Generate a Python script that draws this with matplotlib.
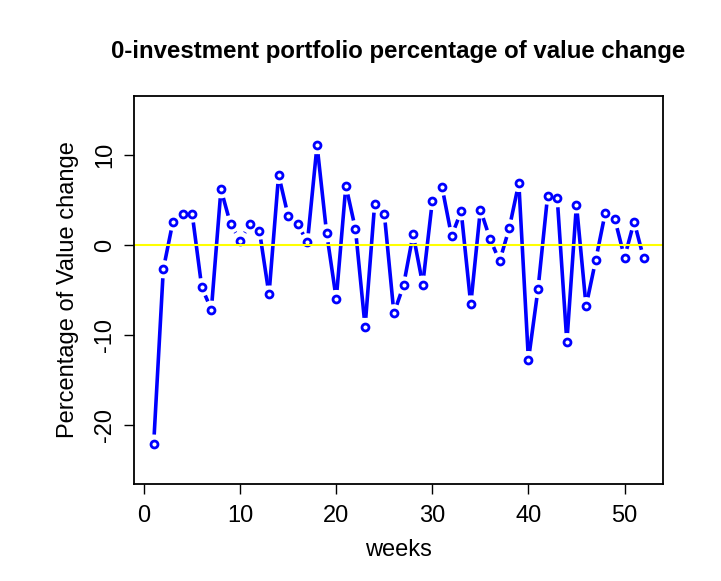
import numpy as np
import matplotlib
matplotlib.use("Agg")
import matplotlib.pyplot as plt
from matplotlib.collections import LineCollection

# weekly percentage change of the 0-investment portfolio
weeks = np.arange(1, 53)
pct_change = [
    -22.1, -2.7, 2.6, 3.5, 3.5, -4.7, -7.2, 6.2, 2.3, 0.5,
    2.3, 1.6, -5.5, 7.8, 3.2, 2.3, 0.3, 11.1, 1.3, -6.0,
    6.6, 1.75, -9.1, 4.6, 3.5, -7.6, -4.5, 1.2, -4.4, 4.9,
    6.5, 1.0, 3.75, -6.6, 3.95, 0.7, -1.8, 1.85, 6.9, -12.8,
    -4.9, 5.5, 5.2, -10.8, 4.5, -6.8, -1.7, 3.6, 2.85, -1.4,
    2.6, -1.5,
]

plt.rcParams['font.family'] = ['Liberation Sans', 'DejaVu Sans']
plt.rcParams['axes.unicode_minus'] = False

fig = plt.figure(figsize=(7.21, 5.81), dpi=100)
ax = fig.add_axes([0.186, 0.167, 0.734, 0.668])

x = np.asarray(weeks, dtype=float)
y = np.asarray(pct_change, dtype=float)

# R style limits: data range + 4%
xr = x.max() - x.min()
ax.set_xlim(x.min() - 0.04 * xr, x.max() + 0.04 * xr)
ax.set_ylim(-25 - 0.04 * 40, 15 + 0.04 * 40)

# type = "b": segments with gaps around the points
fig.canvas.draw()
pts = ax.transData.transform(np.column_stack([x, y]))
gap = 9.0  # pixels
segs = []
for p0, p1 in zip(pts[:-1], pts[1:]):
    d = p1 - p0
    L = np.hypot(*d)
    if L > 2 * gap:
        u = d / L
        a = ax.transData.inverted().transform(p0 + u * gap)
        b = ax.transData.inverted().transform(p1 - u * gap)
        segs.append([a, b])
ax.add_collection(LineCollection(segs, colors='#0000ff', linewidths=2.6,
                                 capstyle='butt'))
ax.plot(x, y, linestyle='none', marker='o', markersize=5.0,
        markerfacecolor='none', markeredgecolor='#0000ff', markeredgewidth=2.0)

ax.axhline(0, color='#ffff00', linewidth=1.5)

ax.set_xticks([0, 10, 20, 30, 40, 50])
ax.set_yticks([-20, -10, 0, 10])
ax.tick_params(axis='both', labelsize=17, length=7, width=1, direction='out')
ax.tick_params(axis='x', pad=8)
ax.tick_params(axis='y', pad=6)
for lab in ax.get_yticklabels():
    lab.set_rotation(90)
    lab.set_va('center')
for s in ax.spines.values():
    s.set_linewidth(1.3)

ax.set_xlabel('weeks', fontsize=17, labelpad=9)
ax.set_ylabel('Percentage of Value change', fontsize=17, labelpad=11)
fig.text(0.552, 0.912, '0-investment portfolio percentage of value change',
         ha='center', va='center', fontsize=17.3, fontweight='bold')

fig.savefig('out.png', dpi=100)
